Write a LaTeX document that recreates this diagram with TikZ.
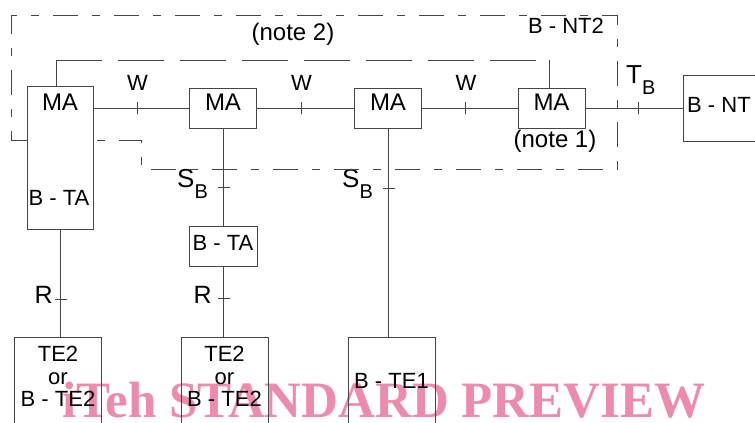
\documentclass[tikz,border=0pt]{standalone}
\usepackage{fontspec}
\setmainfont{Liberation Sans}
\newfontfamily\markfont{Liberation Serif}

\definecolor{wire}{RGB}{70,70,70}
\definecolor{markpink}{RGB}{236,140,170}

\newcommand{\refpoint}[1]{{\fontsize{26}{26}\selectfont #1}\raisebox{-11pt}{\fontsize{20}{20}\selectfont B}}

\tikzstyle{link} = [draw=wire, line width=0.9pt]
\tikzstyle{unitbox} = [
    rectangle,
    draw=wire,
    line width=0.9pt,
    inner sep=0pt
]
\tikzstyle{mabox} = [
    rectangle,
    draw=wire,
    line width=0.9pt,
    minimum width=67pt,
    minimum height=40pt,
    inner sep=0pt,
    text height=16pt,
    text depth=12pt,
    font=\fontsize{24}{24}\selectfont
]
\tikzstyle{tabox} = [
    rectangle,
    draw=wire,
    line width=0.9pt,
    minimum width=68pt,
    minimum height=40pt,
    inner sep=0pt,
    text height=16pt,
    text depth=8pt,
    font=\fontsize{22}{22}\selectfont
]
\tikzstyle{termbox} = [
    rectangle,
    draw=wire,
    line width=0.9pt,
    minimum width=87pt,
    minimum height=100pt,
    anchor=north,
    inner sep=0pt
]
\tikzstyle{lbl} = [inner sep=0pt, font=\fontsize{22}{22.5}\selectfont]
\tikzstyle{vtick} = [draw=wire, line width=0.9pt, minimum width=0pt, minimum height=12pt, inner sep=0pt]
\tikzstyle{htick} = [draw=wire, line width=0.9pt, minimum width=12pt, minimum height=0pt, inner sep=0pt, xshift=1pt]
\tikzstyle{frame} = [draw=wire, line width=0.9pt, dash pattern=on 25pt off 14pt on 8pt off 14pt]
\tikzstyle{notch} = [draw=wire, line width=0.9pt, dash pattern=on 46pt off 16pt]

\begin{document}
\begin{tikzpicture}[x=1pt, y=-1pt]

\useasboundingbox (0,0) rectangle (755,423);
\clip (0,0) rectangle (755,423);

\node (mark) [anchor=base west, inner sep=0pt, text=markpink,
    font=\markfont\bfseries\fontsize{51}{51}\selectfont] at (62,417)
{iTeh STANDARD PREVIEW};

\node (ta1) [unitbox, minimum width=66pt, minimum height=143pt] at (60,157.5) {};

\node (ma2) [mabox] at (223,108) {MA};

\node (ma3) [mabox] at (388,108) {MA};

\node (ma4) [mabox] at (551.5,108) {MA};

\node (bnt) [unitbox, anchor=west, minimum width=120pt, minimum height=66pt] at (683,108) {};

\node (bta2) [tabox] at (223,246) {B - TA};

\node (te2a) [termbox] at (58,337) {};

\node (te2b) [termbox] at (224.5,337) {};

\node (te1) [termbox] at (391.5,337) {};

\node (ta1top) [lbl, anchor=base, font=\fontsize{24}{24}\selectfont] at (60,110) {MA};
\node (ta1bot) [lbl, anchor=base] at (59,205) {B - TA};
\node (bntname) [lbl, anchor=base west] at (687,112) {B - NT};
\node (nt2name) [lbl, anchor=base] at (566,33) {B - NT2};
\node (note2) [lbl, anchor=base, font=\fontsize{24}{24}\selectfont] at (293,40) {(note 2)};
\node (note1) [lbl, anchor=base, font=\fontsize{24}{24}\selectfont] at (555,147) {(note 1)};

\node (te2atext) [lbl, anchor=north, align=center] at (58,346) {TE2\\or\\B - TE2};
\node (te2btext) [lbl, anchor=north, align=center] at (224.5,346) {TE2\\or\\B - TE2};
\node (te1text) [lbl, anchor=base] at (391.5,388) {B - TE1};

\draw [link] (ta1.east |- ma2.west) -- node [vtick, pos=0.46] (w1) {} (ma2.west);
\draw [link] (ma2.east) -- node [vtick, pos=0.46] (w2) {} (ma3.west);
\draw [link] (ma3.east) -- node [vtick, pos=0.46] (w3) {} (ma4.west);
\draw [link] (ma4.east) -- node [vtick, pos=0.54] (tb) {} (bnt.west);

\node [lbl, anchor=base] at (w1 |- 0,90) {W};
\node [lbl, anchor=base] at (w2 |- 0,90) {W};
\node [lbl, anchor=base] at (w3 |- 0,90) {W};
\node (tblabel) [lbl, anchor=base west] at (626,83) {\refpoint{T}};

\draw [link] (ma2.south) -- node [htick, pos=0.61] (sb1) {} (bta2.north);
\draw [link] (ma3.south) -- node [htick, pos=0.29] (sb2) {} (ma3.south |- te1.north);
\draw [link] (ta1.south) -- node [htick, pos=0.65] (r1) {} (ta1.south |- te2a.north);
\draw [link] (bta2.south) -- node [htick, pos=0.46] (r2) {} (bta2.south |- te2b.north);

\node (sb1label) [lbl, anchor=base west] at (177,187) {\refpoint{S}};
\node (sb2label) [lbl, anchor=base west] at (342,187) {\refpoint{S}};
\node (r1label) [lbl, anchor=base east, font=\fontsize{25}{25}\selectfont] at (53,303) {R};
\node (r2label) [lbl, anchor=base east, font=\fontsize{25}{25}\selectfont] at (212,303) {R};

\draw [frame] (ta1.west |- 0,140) -- (11,140) -- (11,15) -- (617,15) -- (617,169)
    -- (141,169) -- (141,140) -- (ta1.east |- 0,140);

\coordinate (n2left) at (56,60);
\coordinate (n2right) at (549,60);
\draw [link] (n2left |- ta1.north) -- (n2left);
\draw [notch] (n2left) -- (n2right);
\draw [link] (n2right) -- (n2right |- ma4.north);

\end{tikzpicture}
\end{document}
